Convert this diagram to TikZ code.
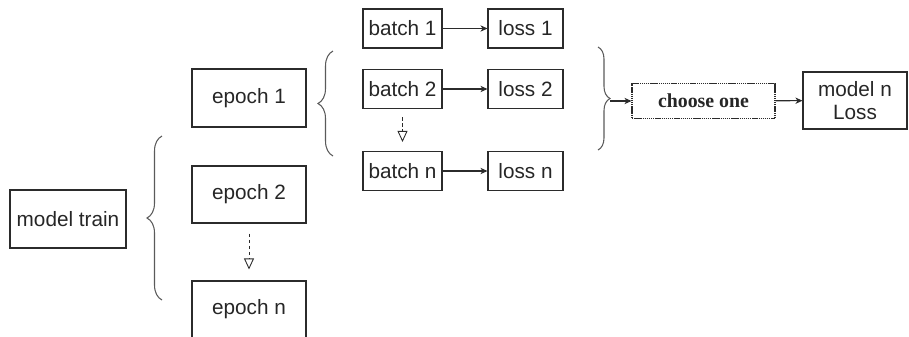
\documentclass[tikz,border=0pt]{standalone}
\usepackage{fontspec}
\setmainfont{Liberation Sans}
\newfontfamily\chooseserif{Liberation Serif}
\usetikzlibrary{arrows.meta,decorations.pathreplacing}
\definecolor{inkgray}{HTML}{262626}
\definecolor{framegray}{HTML}{2B2B2B}
\definecolor{bracegray}{HTML}{5A5A5A}

\begin{document}
\begin{tikzpicture}[x=0.02cm,y=-0.02cm,
  every node/.style={text=inkgray,font=\fontsize{11.8}{13.5}\selectfont},
  box/.style={draw=framegray,line width=0.6pt,inner sep=0pt,align=center},
  flow/.style={draw=framegray,line width=0.6pt,-{Stealth[length=4pt,width=3.6pt,inset=1.2pt]}},
  skip/.style={draw=framegray,line width=0.5pt,dash pattern=on 2pt off 1.5pt,-{Triangle[open,length=6.3pt,width=5.7pt]}},
  curly/.style={draw=bracegray,line width=0.6pt,decorate,decoration={brace,amplitude=#1}}]
\useasboundingbox (0,0) rectangle (909,336);
% left column: model and its epochs
\node[box,minimum width=116*0.02cm,minimum height=58*0.02cm] (mtrain) at (68,219) {model train};
\node[box,minimum width=114*0.02cm,minimum height=58*0.02cm] (ep1) at (249,98) {epoch 1};
\node[box,minimum width=114*0.02cm,minimum height=57*0.02cm] (ep2) at (249,194.5) {epoch 2};
\node[box,minimum width=114*0.02cm,minimum height=57*0.02cm] (epn) at (249,309.5) {epoch n};
\draw[skip,shorten <=10*0.02cm,shorten >=11*0.02cm] (ep2) -- (epn);
\draw[curly=15*0.02cm] (162,300) -- (162,136);
% batches of epoch 1 and their losses
\foreach \id/\y/\lab in {1/28.5/1,2/89/2,n/171/n}{
  \node[box,minimum width=79*0.02cm,minimum height=39*0.02cm] (b\id) at (402.5,\y) {batch \lab};
  \node[box,minimum width=75*0.02cm,minimum height=39*0.02cm] (l\id) at (525.5,\y) {loss \lab};
  \draw[flow] (b\id) -- (l\id);
}
\draw[skip,shorten <=8*0.02cm,shorten >=9*0.02cm] (b2) -- (bn);
\draw[curly=15*0.02cm] (333,156) -- (333,51);
% pick the best loss
\draw[curly=12*0.02cm] (598,47) -- (598,150);
\coordinate (brtip) at (610,101);
\node[box,dash pattern=on 0.8pt off 0.4pt,minimum width=143*0.02cm,minimum height=35*0.02cm,
  font=\chooseserif\bfseries\fontsize{11.3}{13}\selectfont] (choose) at (703.5,101) {choose one};
\node[box,minimum width=104*0.02cm,minimum height=57*0.02cm] (mloss) at (855,100.5) {model n\\Loss};
\draw[flow] (brtip) -- (choose);
\draw[flow] (choose) -- (mloss);
\end{tikzpicture}
\end{document}
